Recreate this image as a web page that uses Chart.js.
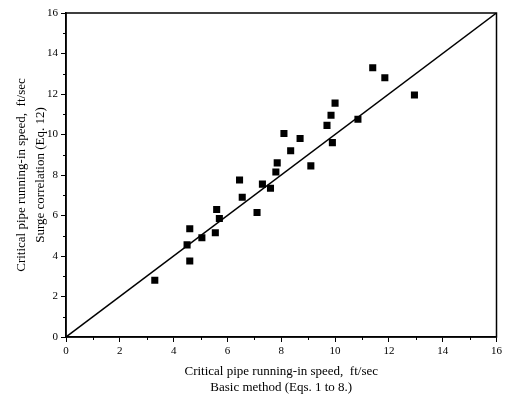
<!DOCTYPE html>
<html>
<head>
<meta charset="utf-8">
<script src="https://cdn.jsdelivr.net/npm/chart.js@4"></script>
<style>
html,body{margin:0;padding:0;background:#fff;}
#wrap{width:505px;height:400px;}
</style>
</head>
<body>
<div id="wrap"><canvas id="c" width="505" height="400"></canvas></div>
<script>
// Data
const basicMethod = [3.3, 4.5, 4.6, 4.6, 5.05, 5.55, 5.6, 5.7, 6.45, 6.55, 7.1, 7.3, 7.6, 7.8, 7.85, 8.1, 8.35, 8.7, 9.1, 9.7, 9.85, 9.9, 10.0, 10.85, 11.4, 11.85, 12.95];
const surgeCorrelation = [2.8, 4.55, 5.35, 3.75, 4.9, 5.15, 6.3, 5.85, 7.75, 6.9, 6.15, 7.55, 7.35, 8.15, 8.6, 10.05, 9.2, 9.8, 8.45, 10.45, 10.95, 9.6, 11.55, 10.75, 13.3, 12.8, 11.95];
const lineX = [0, 16];
const lineY = [0, 16];
const axisMin = 0, axisMax = 16, majorStep = 2;
const minorTicks = [1, 3, 5, 7, 9, 11, 13, 15];
const xTitle = ["Critical pipe running-in speed,  ft/sec", "Basic method (Eqs. 1 to 8.)"];
const yTitle = ["Critical pipe running-in speed,  ft/sec", "Surge correlation (Eq. 12)"];

const points = basicMethod.map((x, i) => ({x: x, y: surgeCorrelation[i]}));
const linePts = lineX.map((x, i) => ({x: x, y: lineY[i]}));

const FONT = "'Liberation Serif', 'DejaVu Serif', serif";

const framePlugin = {
  id: 'frame',
  afterDraw(chart) {
    const {ctx, chartArea: a, scales} = chart;
    ctx.save();
    ctx.strokeStyle = '#000';
    ctx.lineWidth = 1.5;
    ctx.strokeRect(a.left, a.top, a.right - a.left, a.bottom - a.top);
    ctx.lineWidth = 1;
    ctx.beginPath();
    minorTicks.forEach(v => {
      const px = Math.round(scales.x.getPixelForValue(v)) + 0.5;
      ctx.moveTo(px, a.bottom);
      ctx.lineTo(px, a.bottom + 3);
      const py = Math.round(scales.y.getPixelForValue(v)) + 0.5;
      ctx.moveTo(a.left, py);
      ctx.lineTo(a.left - 3, py);
    });
    ctx.stroke();
    ctx.restore();
  }
};

new Chart(document.getElementById('c'), {
  type: 'scatter',
  data: {
    datasets: [
      {
        data: points,
        pointStyle: 'rect',
        radius: 5,
        hoverRadius: 5,
        backgroundColor: '#000',
        borderColor: '#000',
        borderWidth: 0
      },
      {
        data: linePts,
        showLine: true,
        pointRadius: 0,
        borderColor: '#000',
        borderWidth: 1.5,
        fill: false
      }
    ]
  },
  options: {
    responsive: false,
    animation: false,
    events: [],
    layout: {padding: {top: 13, right: 8, left: 0, bottom: 0}},
    plugins: {legend: {display: false}, tooltip: {enabled: false}},
    scales: {
      x: {
        type: 'linear',
        min: axisMin, max: axisMax,
        afterFit(s) { s.height = 63; },
        ticks: {stepSize: majorStep, color: '#000', padding: 3, font: {family: FONT, size: 11}, maxRotation: 0},
        grid: {drawOnChartArea: false, drawTicks: true, tickLength: 5, color: '#000', lineWidth: 1},
        border: {color: '#000', width: 1.5},
        title: {display: true, text: xTitle, color: '#000', font: {family: FONT, size: 13, lineHeight: 1.23}, padding: {top: 0, bottom: 4}}
      },
      y: {
        type: 'linear',
        min: axisMin, max: axisMax,
        afterFit(s) { s.width = 66; },
        ticks: {stepSize: majorStep, color: '#000', padding: 3, font: {family: FONT, size: 11}},
        grid: {drawOnChartArea: false, drawTicks: true, tickLength: 5, color: '#000', lineWidth: 1},
        border: {color: '#000', width: 1.5},
        title: {display: true, text: yTitle, color: '#000', font: {family: FONT, size: 13, lineHeight: 1.46}, padding: {top: 12, bottom: 0}}
      }
    }
  },
  plugins: [framePlugin]
});
</script>
</body>
</html>
